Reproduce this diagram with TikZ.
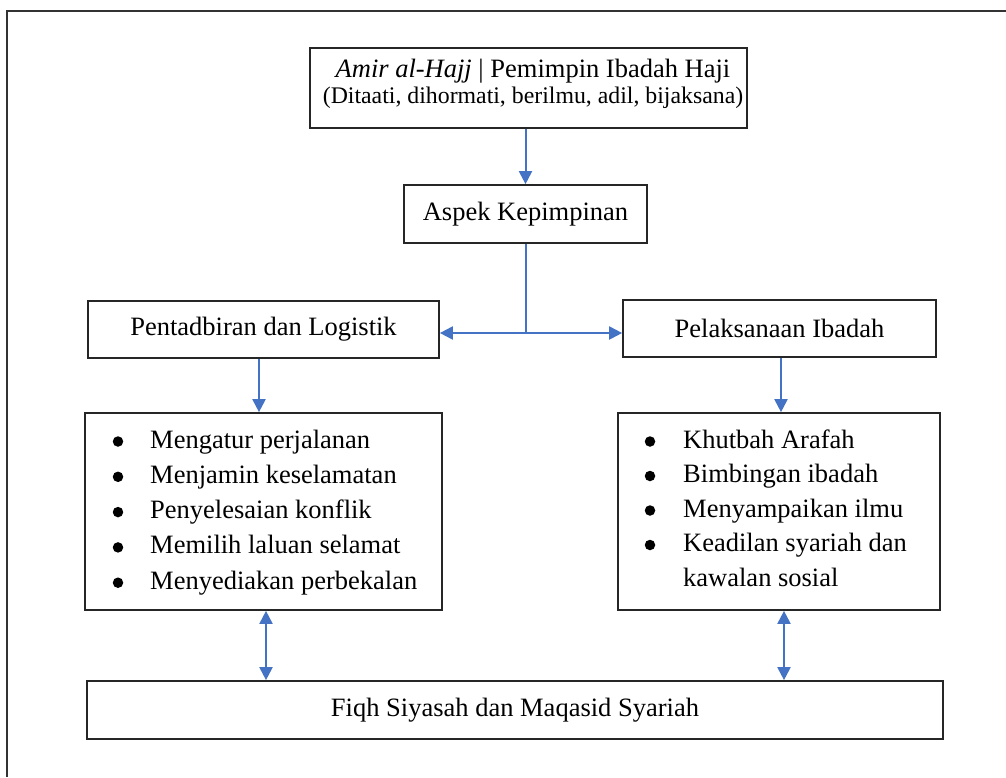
\documentclass[tikz,border=0pt]{standalone}
\usepackage{fontspec}
\setmainfont{Liberation Serif}
\usetikzlibrary{arrows.meta}
\definecolor{arrblue}{HTML}{4472C4}
\begin{document}
\begin{tikzpicture}[x=1pt,y=-1pt,
  box/.style={draw=black!85,line width=1.7pt,inner sep=0pt,
    font=\fontsize{26.5}{32}\selectfont},
  conn/.style={draw=arrblue,line width=2pt,-{Triangle[length=13pt,width=13pt]}},
  dconn/.style={draw=arrblue,line width=2pt,{Triangle[length=13pt,width=13pt]}-{Triangle[length=13pt,width=13pt]}},
  plain/.style={draw=arrblue,line width=2pt},
  txt/.style={inner sep=0pt,font=\fontsize{26.5}{32}\selectfont},
  smalltxt/.style={inner sep=0pt,font=\fontsize{23.8}{28}\selectfont},
  dot/.style={circle,fill=black,inner sep=0pt,minimum size=10.5pt},
  framel/.style={draw=black!80,line width=1.8pt}]
\useasboundingbox (0,0) rectangle (1006,777);
\draw[framel] (7,777) -- (7,11) -- (1006,11);

% boxes
\node[box,minimum width=437pt,minimum height=80pt] (top) at (528.5,88) {};
\node[txt,anchor=base] (t1) at (533,77) {\textit{Amir al-Hajj} | Pemimpin Ibadah Haji};
\node[smalltxt,anchor=base] (t2) at (533,103) {(Ditaati, dihormati, berilmu, adil, bijaksana)};

\node[box,minimum width=243pt,minimum height=58pt] (asp) at (525.5,214) {Aspek Kepimpinan};
\node[box,minimum width=351pt,minimum height=57pt] (pent) at (263.5,329.5) {Pentadbiran dan Logistik};
\node[box,minimum width=313pt,minimum height=57pt] (pel) at (779.5,328.5) {Pelaksanaan Ibadah};
\node[box,minimum width=357pt,minimum height=197pt] (llist) at (263.5,511.5) {};
\node[box,minimum width=322pt,minimum height=197pt] (rlist) at (779,511.5) {};
\node[box,minimum width=856pt,minimum height=58pt] (fiqh) at (515,710) {Fiqh Siyasah dan Maqasid Syariah};

% left list
\foreach \y/\t [count=\i] in {448/Mengatur perjalanan,483.3/Menjamin keselamatan,518.6/Penyelesaian konflik,553.9/Memilih laluan selamat,589.2/Menyediakan perbekalan}{
  \node[dot] (lb\i) at (118,\y-6.5) {};
  \node[txt,anchor=base west] (lt\i) at (150,\y) {\t};
}
% right list
\foreach \y/\t [count=\i] in {448/Khutbah Arafah,482.5/Bimbingan ibadah,517/Menyampaikan ilmu,551.5/Keadilan syariah dan}{
  \node[dot] (rb\i) at (650,\y-6.5) {};
  \node[txt,anchor=base west] (rt\i) at (683,\y) {\t};
}
\node[txt,anchor=base west] (rt5) at (683,586) {kawalan sosial};

% connectors
\draw[conn] (asp.north |- top.south) -- (asp.north);
\coordinate (j) at (525.5,333);
\draw[plain] (asp.south) -- (j);
\draw[conn] (j) -- (pent.east |- j);
\draw[conn] (j) -- (pel.west |- j);
\draw[conn] ([xshift=-4.5pt]pent.south) -- ([xshift=-4.5pt]pent.south |- llist.north);
\draw[conn] ([xshift=1.5pt]pel.south) -- ([xshift=1.5pt]pel.south |- rlist.north);
\draw[dconn] ([xshift=2.5pt]llist.south) -- ([xshift=2.5pt]llist.south |- fiqh.north);
\draw[dconn] ([xshift=5pt]rlist.south) -- ([xshift=5pt]rlist.south |- fiqh.north);
\end{tikzpicture}
\end{document}
